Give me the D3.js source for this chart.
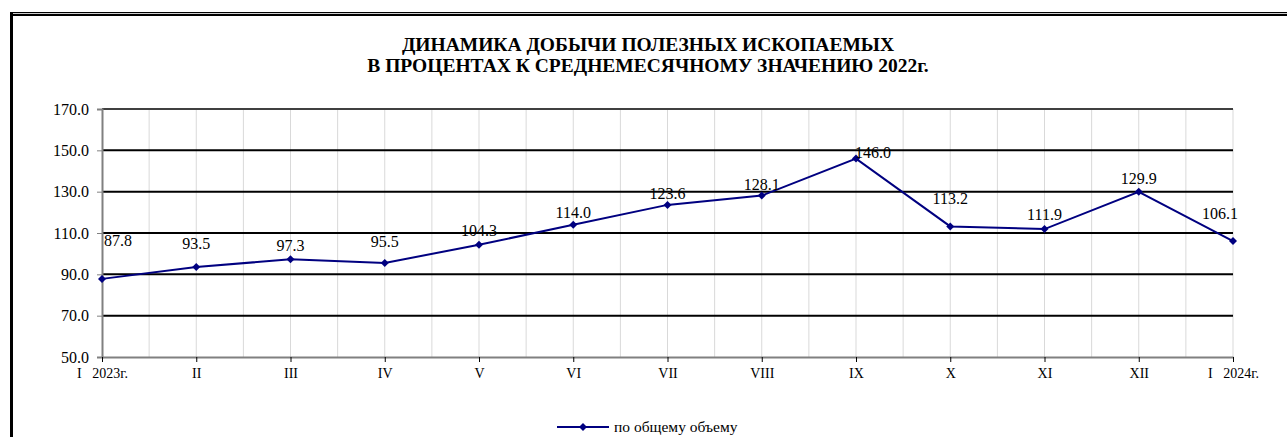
<!DOCTYPE html>
<html>
<head>
<meta charset="utf-8">
<script src="https://cdn.jsdelivr.net/npm/d3@7"></script>
<style>
    body { margin: 0; background: #fff; }
    svg { display: block; font-family: "Liberation Serif", "Times New Roman", serif; }
</style>
</head>
<body>
<div id="chartArea"></div>
<script>
    // Data

    const months = ["I   2023г.", "II", "III", "IV", "V", "VI", "VII", "VIII", "IX", "X", "XI", "XII", "I   2024г."];
    const values = [87.8, 93.5, 97.3, 95.5, 104.3, 114.0, 123.6, 128.1, 146.0, 113.2, 111.9, 129.9, 106.1];
    const yTicks = [50, 70, 90, 110, 130, 150, 170];
    const seriesName = "по общему объему";
    const titleLines = ["ДИНАМИКА ДОБЫЧИ ПОЛЕЗНЫХ ИСКОПАЕМЫХ", "В ПРОЦЕНТАХ К СРЕДНЕМЕСЯЧНОМУ ЗНАЧЕНИЮ 2022г."];

    // label nudges (dx, dy, anchor) - labels were moved by hand in the original
    const labelNudge = [
        [2, -38, "start"], [0, -24, "middle"], [0, -14, "middle"], [0, -22, "middle"],
        [0, -14, "middle"], [0, -12, "middle"], [0, -11, "middle"], [0, -11, "middle"],
        [-1, -6, "start"], [0, -28, "middle"], [0, -15, "middle"], [0, -13, "middle"],
        [-13, -28, "middle"]
    ];

    // Dimensions

    const width = 1287,
        height = 437,
        margin = {
            top: 109,
            left: 102,
            bottom: 80,
            right: 54
        };

    const navy = "#000080";
    const serif = "Liberation Serif, Times New Roman, serif";

    const svg = d3.select("#chartArea")
        .append("svg")
        .attr("width", width)
        .attr("height", height);

    // Frame

    svg.append("rect").attr("x", 10).attr("y", 12).attr("width", width - 10).attr("height", 1.2).attr("fill", "#000");
    svg.append("rect").attr("x", 10).attr("y", 14).attr("width", width - 10).attr("height", 2).attr("fill", "#000");
    svg.append("rect").attr("x", 10).attr("y", 12).attr("width", 3).attr("height", height - 12).attr("fill", "#000");

    // Title

    svg.append("g")
        .selectAll("text")
        .data(titleLines)
        .join("text")
        .attr("x", 648)
        .attr("y", (d, i) => 50.5 + i * 21.5)
        .attr("text-anchor", "middle")
        .attr("font-weight", "bold")
        .attr("font-size", 19.5)
        .text(d => d);

    // Scales

    const x = d3.scaleLinear()
        .domain([0, months.length - 1])
        .range([margin.left, width - margin.right]);

    const y = d3.scaleLinear()
        .domain([50, 170])
        .range([height - margin.bottom, margin.top]);

    // Vertical grid (every half month)

    const halfSteps = d3.range(0, (months.length - 1) * 2 + 1).map(i => i / 2);
    svg.append("g")
        .selectAll("line")
        .data(halfSteps.slice(1))
        .join("line")
        .attr("x1", d => x(d))
        .attr("x2", d => x(d))
        .attr("y1", y(170))
        .attr("y2", y(50))
        .attr("stroke", "#d9d9d9")
        .attr("stroke-width", 1);

    // Horizontal grid

    svg.append("g")
        .selectAll("line")
        .data(yTicks.slice(1))
        .join("line")
        .attr("x1", x(0))
        .attr("x2", x(months.length - 1))
        .attr("y1", d => y(d))
        .attr("y2", d => y(d))
        .attr("stroke", d => d === 170 ? "#404040" : "#000")
        .attr("stroke-width", 2);

    // Axes

    const yAxis = g => g.append("g")
        .attr("transform", `translate(${margin.left},0)`)
        .call(d3.axisLeft(y).tickValues(yTicks).tickFormat(d3.format(".1f")).tickSize(5).tickPadding(8))
        .call(g => g.select(".domain").attr("stroke", "#808080").attr("stroke-width", 2))
        .call(g => g.selectAll(".tick line").attr("stroke", "#808080"))
        .call(g => g.selectAll(".tick text")
            .attr("font-family", serif)
            .attr("font-size", 16)
            .attr("fill", "#000"));

    const xAxis = g => g.append("g")
        .attr("transform", `translate(0,${y(50)})`)
        .call(d3.axisBottom(x).tickValues(d3.range(months.length)).tickFormat(i => months[i]).tickSize(5).tickSizeOuter(0).tickPadding(6))
        .call(g => g.select(".domain").attr("stroke", "#808080").attr("stroke-width", 2))
        .call(g => g.selectAll(".tick line").attr("stroke", "#000"))
        .call(g => g.selectAll(".tick text")
            .attr("font-family", serif)
            .attr("font-size", 14)
            .attr("fill", "#000")
            .style("white-space", "pre"));

    svg.call(yAxis);
    svg.call(xAxis);

    // Line

    const line = d3.line()
        .x((d, i) => x(i))
        .y(d => y(d));

    svg.append("path")
        .datum(values)
        .attr("fill", "none")
        .attr("stroke", navy)
        .attr("stroke-width", 2)
        .attr("d", line);

    const diamond = d3.symbol().type(d3.symbolSquare).size(32);

    svg.append("g")
        .selectAll("path")
        .data(values)
        .join("path")
        .attr("transform", (d, i) => `translate(${x(i)},${y(d)}) rotate(45)`)
        .attr("d", diamond)
        .attr("fill", navy);

    // Data labels

    svg.append("g")
        .selectAll("text")
        .data(values)
        .join("text")
        .attr("x", (d, i) => x(i) + labelNudge[i][0])
        .attr("y", (d, i) => y(d) + labelNudge[i][1])
        .attr("dy", "0.35em")
        .attr("text-anchor", (d, i) => labelNudge[i][2])
        .attr("font-size", 16)
        .text(d => d.toFixed(1));

    // Legend

    const legend = svg.append("g")
        .attr("transform", "translate(557,427)");

    legend.append("line")
        .attr("x1", 0).attr("x2", 52)
        .attr("stroke", navy)
        .attr("stroke-width", 2);

    legend.append("path")
        .attr("transform", "translate(26,0) rotate(45)")
        .attr("d", diamond)
        .attr("fill", navy);

    legend.append("text")
        .attr("x", 57)
        .attr("dy", "0.35em")
        .attr("font-size", 15.5)
        .text(seriesName);
</script>
</body>
</html>
